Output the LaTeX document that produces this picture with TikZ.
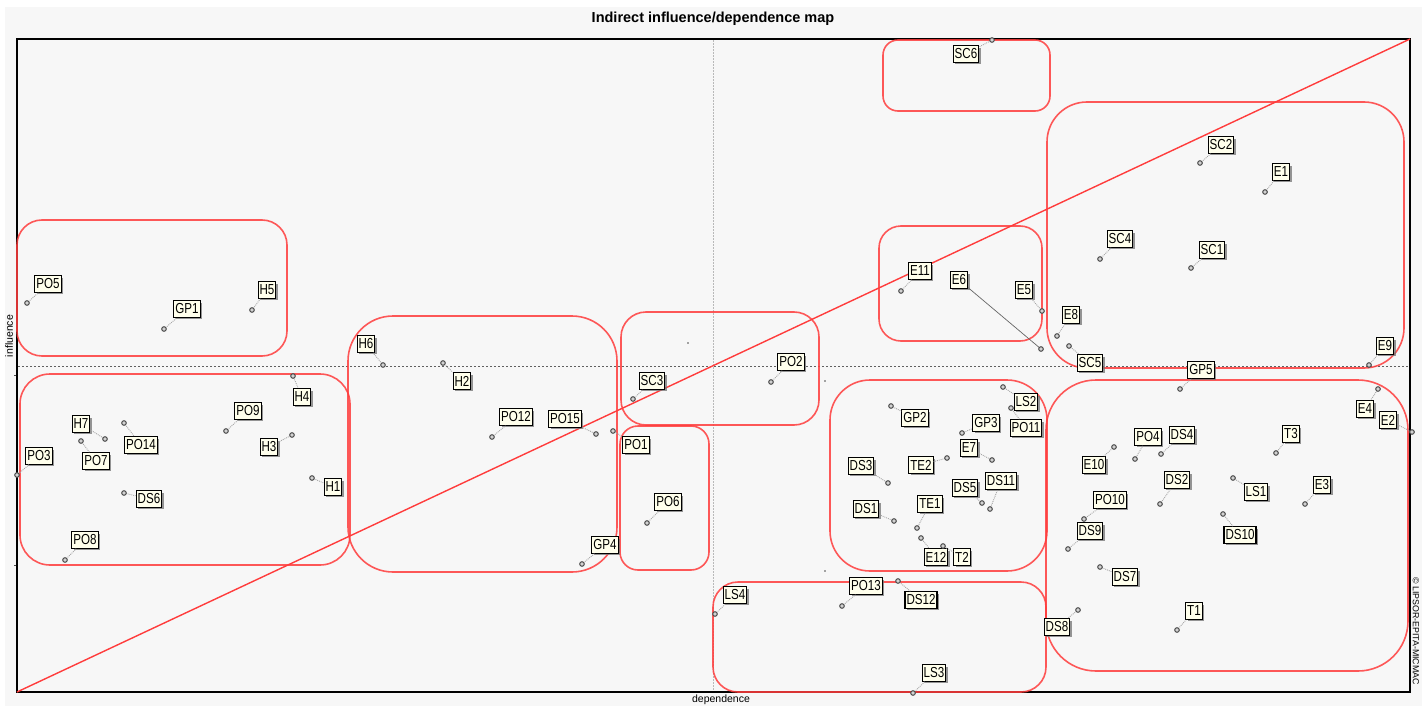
\documentclass[tikz,border=0pt]{standalone}
\usepackage{fontspec}
\setmainfont{Liberation Sans}
\newfontfamily\lblfont[FakeStretch=0.8]{Liberation Sans}
\usetikzlibrary{shadows}
\definecolor{bgc}{RGB}{247,247,247}
\definecolor{redc}{RGB}{255,60,60}
\definecolor{lblfill}{RGB}{255,255,236}
\begin{document}
\begin{tikzpicture}[x=1pt,y=-1pt,
  lbl/.style={draw=black, line width=1.1pt, fill=lblfill, inner xsep=1.5pt, inner ysep=0pt,
    minimum height=16.5pt, font=\lblfont\fontsize{14.5}{14.5}\selectfont,
    drop shadow={shadow xshift=2pt, shadow yshift=-2pt, fill=black!55, opacity=0.75}},
  lead/.style={draw=gray!70, densely dotted, line width=0.9pt},
  ptmark/.style={draw=black!70, fill=gray!35, line width=1pt},
  cluster/.style={draw=redc, line width=1.6pt, opacity=0.85},
  axisdash/.style={draw=gray!75!black, line width=0.6pt, dash pattern=on 2pt off 2pt},
  vdash/.style={draw=gray!55, line width=0.9pt, dash pattern=on 2pt off 1pt},
  note/.style={font=\fontsize{10.5}{11}\selectfont, inner sep=0pt}
]
\useasboundingbox (0,0) rectangle (1427,706);
\fill[white] (0,0) rectangle (1427,706);
\fill[bgc] (5,7) rectangle (1422,706);

% title
\node[font=\bfseries\fontsize{14.5}{15}\selectfont, inner sep=0pt] (title) at (713,19) {Indirect influence/dependence map};

% axes (dashed)
\draw[vdash] (713,40) -- (713,691);
\draw[axisdash] (18,366) -- (1409,366);

% frame
\draw[black, line width=1.4pt] (17,39) rectangle (1410,692);
\draw[black!70, line width=0.8pt] (14,375) -- (16,375);
\draw[black!70, line width=0.8pt] (14,565) -- (16,565);

% axis labels
\node[note, rotate=90] (ylab) at (9,336) {influence};
\node[note] (xlab) at (721,700) {dependence};
\node[font=\fontsize{8.8}{9}\selectfont, inner sep=0pt, rotate=-90] (copy) at (1416,631) {\textcopyright\ LIPSOR-EPITA-MICMAC};

% tiny dots
\fill[black!70] (688,343) circle (0.8);
\fill[black!70] (825,381) circle (0.8);
\fill[black!70] (825,571) circle (0.8);

% diagonal
\draw[redc, line width=1.4pt] (17,692) -- (1410,39);

% clusters
\draw[cluster, rounded corners=25pt] (17,220) rectangle (287,356);
\draw[cluster, rounded corners=30pt] (20,374) rectangle (350,565);
\draw[cluster, rounded corners=45pt] (348,316) rectangle (617,572);
\draw[cluster, rounded corners=25pt] (621,312) rectangle (819,425);
\draw[cluster, rounded corners=18pt] (620,426) rectangle (709,570);
\draw[cluster, rounded corners=15pt] (883,40) rectangle (1050,111);
\draw[cluster, rounded corners=22pt] (879,226) rectangle (1042,341);
\draw[cluster, rounded corners=40pt] (1047,102) rectangle (1404,368);
\draw[cluster, rounded corners=40pt] (830,380) rectangle (1047,571);
\draw[cluster, rounded corners=50pt] (1046,380) rectangle (1408,671);
\draw[cluster, rounded corners=25pt] (713,582) rectangle (1046,692);

% variables: name / label x / label y / point x / point y
\foreach \n/\lx/\ly/\mx/\my in {
PO5/48/284/27/303, GP1/187/309/164/329, H5/267/290/252/310, H4/302/397/293/376,
PO9/248/411/226/431, H3/269/447/292/435, H7/81/424/105/439, PO7/96/461/81/441,
PO14/141/445/124/423, PO3/39/456/17/475, DS6/149/499/124/493, H1/333/487/312/478,
PO8/85/540/65/560, H6/366/344/383/365, H2/462/381/443/363, PO12/516/417/492/437,
PO15/565/419/596/434, SC3/652/381/633/399, PO1/636/445/613/431, PO6/668/502/647/523,
GP4/605/545/582/564, PO2/791/362/771/382, E11/920/271/901/291,
E5/1024/290/1042/311, SC6/966/54/992/40, SC2/1221/145/1200/163, E1/1281/172/1265/192,
SC4/1120/239/1100/259, SC1/1212/250/1191/268, E8/1071/315/1057/336, SC5/1090/363/1069/346,
E9/1385/346/1369/365, GP5/1201/370/1180/389, E4/1365/409/1378/389, E2/1388/420/1412/432,
PO4/1148/437/1135/459, DS4/1182/435/1161/454, T3/1291/434/1276/453, E10/1094/465/1114/447,
DS2/1177/480/1160/504, LS1/1256/492/1233/478, E3/1322/485/1305/504, PO10/1110/500/1084/519,
DS9/1090/531/1068/549, DS10/1240/535/1223/514, DS7/1125/577/1100/567, T1/1194/611/1177/630,
DS8/1057/627/1078/610, GP2/915/418/891/406, LS2/1026/402/1003/387, PO11/1026/428/1011/408,
GP3/986/423/962/433, E7/969/448/992/460, TE2/921/465/947/458, DS3/861/466/888/483,
DS5/965/488/982/503, DS11/1001/481/990/509, DS1/866/509/894/521, TE1/930/504/917/528,
E12/936/557/921/538, T2/962/557/943/546, PO13/866/586/842/606, DS12/921/600/898/581,
LS4/735/595/715/614, LS3/934/673/913/693}
{
  \coordinate (m\n) at (\mx,\my);
  \node[lbl] (l\n) at (\lx,\ly) {\n};
  \draw[lead] (m\n) -- (l\n);
  \draw[ptmark] (m\n) circle (2.3);
}

% E6 with its long leader
\coordinate (mE6) at (1041,349);
\node[lbl] (lE6) at (959,280) {E6};
\draw[black!60, line width=0.7pt] (mE6) -- (lE6);
\draw[ptmark] (mE6) circle (2.3);
\end{tikzpicture}
\end{document}
